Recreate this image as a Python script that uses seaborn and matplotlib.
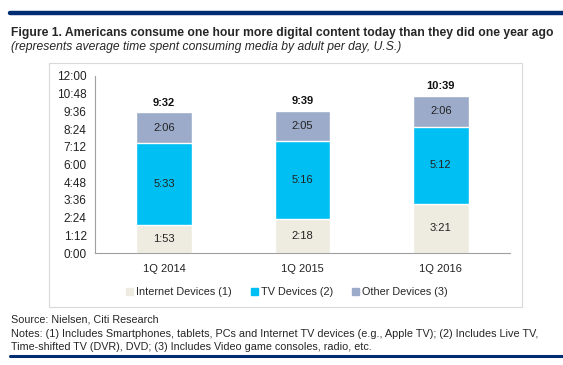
import pandas as pd
import seaborn as sns
import matplotlib.pyplot as plt
from matplotlib.patches import Rectangle
from matplotlib.lines import Line2D

# dati (minuti al giorno)
quarters = ['1Q 2014', '1Q 2015', '1Q 2016']
internet = [113, 138, 201]
tv = [333, 316, 312]
other = [126, 125, 126]
series_names = ['Internet Devices (1)', 'TV Devices (2)', 'Other Devices (3)']
colors = ['#EEECE1', '#00BFF3', '#9CABC9']
yticks = list(range(0, 721, 72))


def hm(m):
    return f'{int(m) // 60}:{int(m) % 60:02d}'


df = pd.DataFrame({'Quarter': quarters, 'Internet': internet, 'TV': tv, 'Other': other})
df['c1'] = df['Internet']
df['c2'] = df['c1'] + df['TV']
df['c3'] = df['c2'] + df['Other']

sns.set_style('white')
plt.rcParams['font.family'] = ['Liberation Sans', 'DejaVu Sans']

fig = plt.figure(figsize=(5.63, 3.65), dpi=100)
W, H = 563, 365

# cornice del grafico
fig.patches.append(Rectangle((49 / W, 1 - 307 / H), (522 - 49) / W, (307 - 63) / H,
                             transform=fig.transFigure, fill=False, edgecolor='#D9D9D9', lw=0.8))
# linee blu
fig.lines.append(Line2D([10 / W, 1], [1 - 13 / H] * 2, transform=fig.transFigure, color='#002D72', lw=3.2))
fig.lines.append(Line2D([10 / W, 1], [1 - 356 / H] * 2, transform=fig.transFigure, color='#002D72', lw=2.2))

ax = fig.add_axes([95 / W, 1 - 253 / H, (510 - 95) / W, (253 - 76) / H])

# barre impilate: dal totale verso il basso
for col, c, name in zip(['c3', 'c2', 'c1'], colors[::-1], series_names[::-1]):
    sns.barplot(data=df, x='Quarter', y=col, color=c, width=0.4, ax=ax, saturation=1, label=name)

ax.set_xlim(-0.5, 2.5)
ax.set_ylim(0, 720)
ax.set_yticks(yticks)
ax.set_yticklabels([hm(v) for v in yticks])
ax.set_xlabel('')
ax.set_ylabel('')
ax.set_xticks([0.5, 1.5], minor=True)
ax.tick_params(axis='x', which='major', length=0, pad=8, labelsize=8, colors='#222222')
ax.tick_params(axis='x', which='minor', length=3, direction='out', color='#A0A0A0')
ax.tick_params(axis='y', length=3, direction='out', color='#A0A0A0', labelsize=8.5, labelcolor='#222222', pad=3)
for s in ['top', 'right']:
    ax.spines[s].set_visible(False)
for s in ['left', 'bottom']:
    ax.spines[s].set_color('#A0A0A0')
    ax.spines[s].set_linewidth(0.8)
if ax.get_legend():
    ax.get_legend().remove()

# etichette segmenti
for i in range(len(quarters)):
    y0 = 0
    for v in [internet[i], tv[i], other[i]]:
        ax.text(i, y0 + v / 2, hm(v), ha='center', va='center', fontsize=8, color='#222222')
        y0 += v
    ax.text(i, y0 + 40, hm(y0), ha='center', va='center', fontsize=8, fontweight='bold', color='#111111')

handles = [Rectangle((0, 0), 1, 1, color=c) for c in colors]
fig.legend(handles, series_names, loc='center', bbox_to_anchor=(287 / W, 1 - 292 / H), ncol=3,
           frameon=False, fontsize=7.8, handlelength=0.6, handleheight=0.6, handletextpad=0.3,
           columnspacing=1.8, borderpad=0)

# testi esterni, ridimensionati per stare nella larghezza del riferimento
renderer = fig.canvas.get_renderer()


def fit_text(x, y, s, width, size, **kw):
    t = fig.text(x / W, 1 - y / H, s, fontsize=size, va='center', ha='left', **kw)
    w = t.get_window_extent(renderer).width
    if w > width:
        t.set_fontsize(size * width / w)
    return t


fit_text(11, 33, 'Figure 1. Americans consume one hour more digital content today than they did one year ago',
         539, 10, fontweight='bold')
fit_text(11, 47, '(represents average time spent consuming media by adult per day, U.S.)', 390, 9, style='italic')
fit_text(11, 320, 'Source: Nielsen, Citi Research', 146, 8.5)
fit_text(11, 334, 'Notes: (1) Includes Smartphones, tablets, PCs and Internet TV devices (e.g., Apple TV); (2) Includes Live TV,',
         521, 8.5)
fit_text(11, 347, 'Time-shifted TV (DVR), DVD; (3) Includes Video game consoles, radio, etc.', 359, 8.5)

fig.savefig('out.png', dpi=100)
